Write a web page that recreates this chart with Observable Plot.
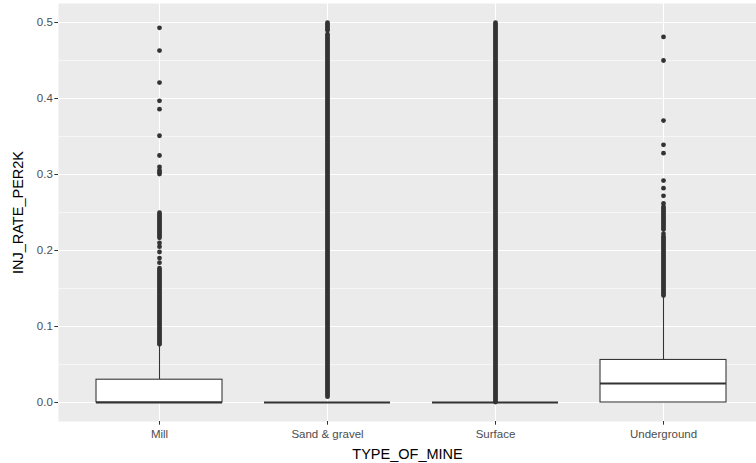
<!DOCTYPE html>
<html>
<head>
<meta charset="utf-8">
<script src="https://cdn.jsdelivr.net/npm/d3@7"></script>
<script src="https://cdn.jsdelivr.net/npm/@observablehq/plot@0.6"></script>
<style>
  html, body { margin: 0; padding: 0; background: white; }
  #chart svg { display: block; }
  g[aria-label="y-axis label"] text, g[aria-label="x-axis label"] text { font-size: 14.5px; fill: #000; }
</style>
</head>
<body>
<div id="chart"></div>
<script>
// Categories and box statistics
const categories = ["Mill", "Sand & gravel", "Surface", "Underground"];
const q1 = [0, 0, 0, 0];
const medians = [0, 0, 0, 0.025];
const q3 = [0.030, 0, 0, 0.056];
const whiskerHigh = [0.075, 0, 0, 0.138];

// Dense runs of outliers (overlapping points drawn as continuous columns)
const denseCategory = ["Mill", "Mill", "Mill", "Sand & gravel", "Sand & gravel", "Surface", "Underground", "Underground"];
const denseLow  = [0.076, 0.216, 0.300, 0.007, 0.489, 0.000, 0.140, 0.227];
const denseHigh = [0.176, 0.249, 0.305, 0.484, 0.499, 0.499, 0.218, 0.257];

// Sparse individual outliers
const outlierCategory = [
  "Mill", "Mill", "Mill", "Mill", "Mill", "Mill", "Mill", "Mill", "Mill", "Mill", "Mill", "Mill", "Mill",
  "Underground", "Underground", "Underground", "Underground", "Underground", "Underground", "Underground", "Underground", "Underground", "Underground"
];
const outlierValue = [
  0.184, 0.190, 0.198, 0.205, 0.210, 0.310, 0.325, 0.351, 0.386, 0.397, 0.421, 0.463, 0.493,
  0.222, 0.262, 0.272, 0.282, 0.292, 0.328, 0.339, 0.371, 0.450, 0.481
];

const yTicks = [0, 0.1, 0.2, 0.3, 0.4, 0.5];
const yMinor = [0.05, 0.15, 0.25, 0.35, 0.45];

const boxes = categories.map((c, i) => ({c, q1: q1[i], med: medians[i], q3: q3[i], hi: whiskerHigh[i]}));
const dense = denseCategory.map((c, i) => ({c, lo: denseLow[i], hi: denseHigh[i]}));
const outliers = outlierCategory.map((c, i) => ({c, v: outlierValue[i]}));

const ink = "#333333";

const chart = Plot.plot({
  width: 756,
  height: 463,
  marginLeft: 58,
  marginRight: 0,
  marginTop: 3,
  marginBottom: 42,
  style: {fontFamily: "'Liberation Sans', Arial, sans-serif", fontSize: "11px", background: "white"},
  x: {type: "band", domain: categories, range: [58, 764], paddingInner: 0, paddingOuter: 0.1},
  y: {domain: [-0.025, 0.525]},
  marks: [
    Plot.frame({fill: "#EBEBEB", stroke: null}),
    Plot.gridY(yMinor, {stroke: "white", strokeOpacity: 1, strokeWidth: 0.55}),
    Plot.gridY(yTicks, {stroke: "white", strokeOpacity: 1, strokeWidth: 1.1}),
    Plot.ruleX(categories, {stroke: "white", strokeWidth: 1.1}),
    Plot.ruleX(boxes, {x: "c", y1: "q3", y2: "hi", stroke: ink, strokeWidth: 1.07}),
    Plot.ruleX(dense, {x: "c", y1: "lo", y2: "hi", stroke: ink, strokeWidth: 4.8, strokeLinecap: "round"}),
    Plot.dot(outliers, {x: "c", y: "v", r: 2.4, fill: ink, stroke: null}),
    Plot.barY(boxes, {x: "c", y1: "q1", y2: "q3", fill: "white", stroke: ink, strokeWidth: 1.07, insetLeft: 21, insetRight: 21}),
    Plot.tickY(boxes, {x: "c", y: "med", stroke: ink, strokeWidth: 2.1, insetLeft: 21, insetRight: 21}),
    Plot.axisY({ticks: yTicks, tickFormat: d3.format(".1f"), tickSize: 3.7, tickPadding: 2, stroke: ink, color: "#4D4D4D", fontSize: 11.5,
      label: "INJ_RATE_PER2K", labelAnchor: "center", labelArrow: "none", labelOffset: 46}),
    Plot.axisX({tickSize: 3.7, tickPadding: 5, stroke: ink, color: "#4D4D4D", fontSize: 11.5,
      label: "TYPE_OF_MINE", labelAnchor: "center", labelArrow: "none", labelOffset: 37})
  ]
});
document.getElementById("chart").appendChild(chart);
</script>
</body>
</html>
